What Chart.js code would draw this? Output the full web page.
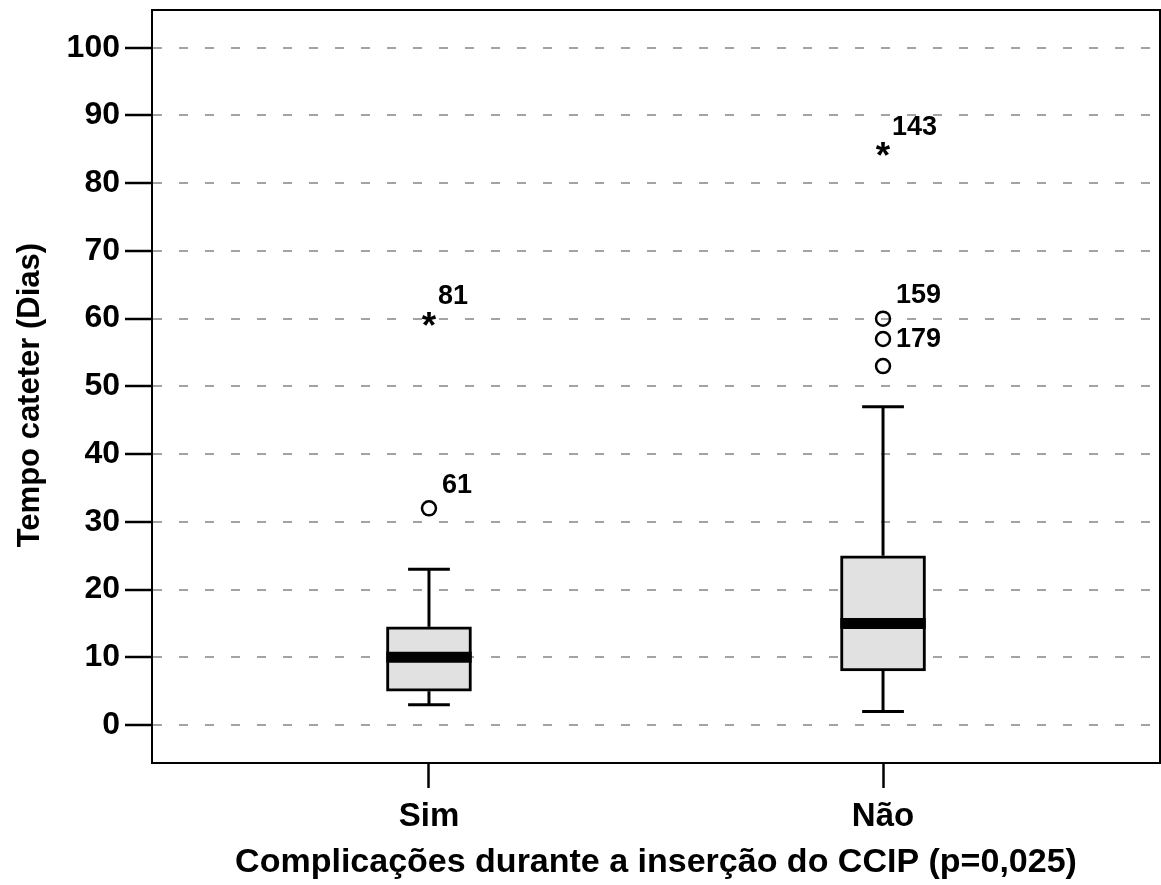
<!DOCTYPE html>
<html lang="pt">
<head>
<meta charset="utf-8">
<title>Tempo cateter por complicações</title>
<script src="https://cdn.jsdelivr.net/npm/chart.js@4.4.1/dist/chart.umd.min.js"></script>
<style>
  html, body { margin: 0; padding: 0; background: #ffffff; }
  #wrap { width: 1161px; height: 885px; }
</style>
</head>
<body>
<div id="wrap"><canvas id="chart" width="1161" height="885"></canvas></div>
<script>
// Groups on the x axis
const categories = ['Sim', 'Não'];

// Box-plot summaries (days)
const whiskerLow  = [3, 2];
const q1          = [5, 8];
const median      = [10, 15];
const q3          = [14.5, 25];
const whiskerHigh = [23, 47];

// Outliers: group index, value, case number ('' = unlabelled)
const circleGroup = [0, 1, 1, 1];
const circleValue = [32, 60, 57, 53];
const circleCase  = ['61', '159', '179', ''];

// Extreme values (asterisks)
const starGroup = [0, 1];
const starValue = [60, 85];
const starCase  = ['81', '143'];

// Y axis tick values
const yTickValues = [0, 10, 20, 30, 40, 50, 60, 70, 80, 90, 100];

// ---- styling constants ----
const FONT = "'Liberation Sans', Arial, Helvetica, sans-serif";
const BOX_HALF = 0.094;   // half box width, x units
const CAP_HALF = 0.046;   // half whisker-cap width, x units
const xPos = i => i + 1;

const datasets = [];

// Boxes (Q1..Q3) as floating bars
datasets.push({
  type: 'bar',
  data: categories.map((c, i) => ({ x: xPos(i), y: [q1[i], q3[i]] })),
  backgroundColor: '#e1e1e1',
  borderColor: '#000000',
  borderWidth: 3,
  borderSkipped: false,
  barThickness: 85,
  order: 4
});

// Whiskers and caps
function seg(points, width, order) {
  return {
    type: 'line',
    data: points,
    borderColor: '#000000',
    borderWidth: width,
    borderCapStyle: 'butt',
    pointRadius: 0,
    pointHoverRadius: 0,
    fill: false,
    tension: 0,
    order: order
  };
}
categories.forEach((c, i) => {
  const x = xPos(i);
  datasets.push(seg([{ x, y: q3[i] }, { x, y: whiskerHigh[i] }], 3, 3));
  datasets.push(seg([{ x, y: whiskerLow[i] }, { x, y: q1[i] }], 3, 3));
  datasets.push(seg([{ x: x - CAP_HALF, y: whiskerHigh[i] }, { x: x + CAP_HALF, y: whiskerHigh[i] }], 3, 3));
  datasets.push(seg([{ x: x - CAP_HALF, y: whiskerLow[i] }, { x: x + CAP_HALF, y: whiskerLow[i] }], 3, 3));
  // median band
  datasets.push(seg([{ x: x - BOX_HALF, y: median[i] }, { x: x + BOX_HALF, y: median[i] }], 11, 2));
});

// Circle outliers
datasets.push({
  type: 'scatter',
  data: circleValue.map((v, k) => ({ x: xPos(circleGroup[k]), y: v })),
  pointStyle: 'circle',
  pointRadius: 7,
  pointHoverRadius: 7,
  pointBorderWidth: 2.5,
  pointBorderColor: '#000000',
  pointBackgroundColor: 'rgba(0,0,0,0)',
  order: 1
});

// Asterisks and case-number labels
const outlierText = {
  id: 'outlierText',
  afterDatasetsDraw(chart) {
    const { ctx, scales: { x, y } } = chart;
    ctx.save();
    ctx.fillStyle = '#000000';

    // asterisks centred on their values
    ctx.font = 'bold 37px ' + FONT;
    ctx.textAlign = 'center';
    ctx.textBaseline = 'alphabetic';
    const m = ctx.measureText('*');
    const mid = (m.actualBoundingBoxAscent - m.actualBoundingBoxDescent) / 2;
    starValue.forEach((v, k) => {
      const px = x.getPixelForValue(xPos(starGroup[k]));
      const py = y.getPixelForValue(v);
      ctx.fillText('*', px, py + mid);
    });

    // case numbers
    ctx.font = 'bold 27px ' + FONT;
    ctx.textAlign = 'left';
    ctx.textBaseline = 'middle';
    starValue.forEach((v, k) => {
      if (!starCase[k]) return;
      const px = x.getPixelForValue(xPos(starGroup[k]));
      const py = y.getPixelForValue(v);
      ctx.fillText(starCase[k], px + 9, py - 22);
    });
    circleValue.forEach((v, k) => {
      if (!circleCase[k]) return;
      const px = x.getPixelForValue(xPos(circleGroup[k]));
      const py = y.getPixelForValue(v);
      // a label that would collide with the one above sits beside its point
      const beside = circleCase[k] === '179';
      if (beside) ctx.fillText(circleCase[k], px + 13, py + 1);
      else ctx.fillText(circleCase[k], px + 13, py - 23);
    });
    ctx.restore();
  }
};

// Frame around the plotting area
const frame = {
  id: 'frame',
  afterDraw(chart) {
    const { ctx, chartArea: a } = chart;
    ctx.save();
    ctx.strokeStyle = '#000000';
    ctx.lineWidth = 2;
    ctx.strokeRect(a.left, a.top, a.right - a.left, a.bottom - a.top);
    ctx.restore();
  }
};

function noPadding(s) {
  s.paddingTop = 0;
  s.paddingBottom = 0;
  s.paddingLeft = 0;
  s.paddingRight = 0;
}

new Chart(document.getElementById('chart'), {
  type: 'bar',
  data: { datasets },
  plugins: [outlierText, frame],
  options: {
    responsive: false,
    animation: false,
    events: [],
    layout: { autoPadding: false, padding: { top: 10, right: 1, left: 12, bottom: 0 } },
    plugins: {
      legend: { display: false },
      tooltip: { enabled: false }
    },
    scales: {
      x: {
        type: 'linear',
        min: 0.39,
        max: 2.61,
        offset: false,
        afterBuildTicks: s => { s.ticks = categories.map((c, i) => ({ value: xPos(i) })); },
        afterFit: s => { s.height = 122; noPadding(s); },
        ticks: {
          callback: v => categories[v - 1] || '',
          color: '#000000',
          font: { family: FONT, size: 33, weight: 'bold' },
          padding: 9,
          maxRotation: 0,
          autoSkip: false
        },
        grid: {
          offset: false,
          drawOnChartArea: false,
          drawTicks: true,
          tickLength: 25,
          tickColor: '#000000',
          tickWidth: 2.5
        },
        border: { display: true, color: '#000000', width: 2 },
        title: {
          display: true,
          text: 'Complicações durante a inserção do CCIP (p=0,025)',
          color: '#000000',
          font: { family: FONT, size: 34, weight: 'bold' },
          padding: { top: 0, bottom: 2 }
        }
      },
      y: {
        type: 'linear',
        min: -5.6,
        max: 105.57,
        afterBuildTicks: s => { s.ticks = yTickValues.map(v => ({ value: v })); },
        afterFit: s => { s.width = 140; noPadding(s); },
        ticks: {
          color: '#000000',
          font: { family: FONT, size: 32, weight: 'bold' },
          padding: 5
        },
        grid: {
          color: '#a3a3a3',
          lineWidth: 2,
          drawTicks: true,
          tickLength: 27,
          tickColor: '#000000',
          tickWidth: 2.5,
          tickBorderDash: []
        },
        border: { display: true, color: '#000000', width: 2, dash: [9, 17] },
        title: {
          display: true,
          text: 'Tempo cateter (Dias)  ',
          color: '#000000',
          font: { family: FONT, size: 31, weight: 'bold' },
          padding: { top: 0, bottom: 10 }
        }
      }
    }
  }
});
</script>
</body>
</html>
